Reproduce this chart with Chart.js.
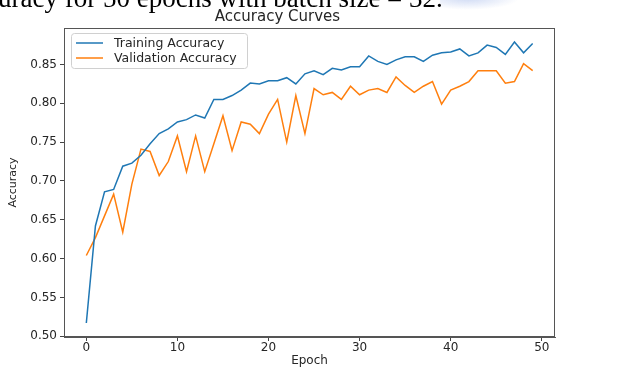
<!DOCTYPE html>
<html>
<head>
<meta charset="utf-8">
<script src="https://cdn.jsdelivr.net/npm/chart.js@4.4.1/dist/chart.umd.min.js"></script>
<style>
  body { margin: 0; background: #fff; overflow: hidden; }
  #wrap { position: relative; width: 627px; height: 372px; }
  #caption {
    position: absolute; left: -2px; top: -15px; white-space: nowrap;
    font-family: "Liberation Serif", serif; font-size: 27px; line-height: 27px; color: #000;
  }
  #smudge {
    position: absolute; left: 440px; top: -10px; width: 80px; height: 20px;
    background: radial-gradient(ellipse at 35% 40%, rgba(190,205,240,0.75), rgba(255,255,255,0) 70%);
  }
  canvas { position: absolute; left: 0; top: 0; }
</style>
</head>
<body>
<div id="wrap">
  <canvas id="chart" width="627" height="372"></canvas>
  <div id="smudge"></div>
  <div id="caption">uracy for 50 epochs with batch size = 32.</div>
</div>
<script>
const epochs = Array.from({ length: 50 }, (_, i) => i);
const trainAcc = [0.517, 0.642, 0.686, 0.689, 0.719, 0.723, 0.733, 0.748, 0.761, 0.767,
                  0.776, 0.779, 0.785, 0.781, 0.805, 0.805, 0.810, 0.817, 0.826, 0.825,
                  0.829, 0.829, 0.833, 0.825, 0.838, 0.842, 0.837, 0.845, 0.843, 0.847,
                  0.847, 0.861, 0.854, 0.850, 0.856, 0.860, 0.860, 0.854, 0.862, 0.865,
                  0.866, 0.870, 0.861, 0.865, 0.875, 0.872, 0.863, 0.879, 0.865, 0.877];
const valAcc = [0.604, 0.627, 0.655, 0.683, 0.634, 0.696, 0.741, 0.738, 0.707, 0.725,
                0.758, 0.712, 0.758, 0.712, 0.748, 0.784, 0.739, 0.776, 0.773, 0.761,
                0.786, 0.805, 0.750, 0.810, 0.761, 0.819, 0.811, 0.814, 0.805, 0.822,
                0.811, 0.817, 0.819, 0.814, 0.834, 0.823, 0.814, 0.822, 0.828, 0.799,
                0.817, 0.822, 0.828, 0.842, 0.842, 0.842, 0.826, 0.828, 0.851, 0.842];
const xTicks = [0, 10, 20, 30, 40, 50];
const yTicks = [0.50, 0.55, 0.60, 0.65, 0.70, 0.75, 0.80, 0.85];

const FONT = "'DejaVu Sans', sans-serif";
const TXT = "#262626";

// frame + legend drawn like matplotlib
const mplBox = {
    id: "mplBox",
    afterDraw(chart) {
        const { ctx, chartArea: a } = chart;
        ctx.save();
        ctx.strokeStyle = "#555";
        ctx.lineWidth = 1;
        ctx.strokeRect(a.left + 0.5, a.top + 0.5, a.right - a.left - 1, a.bottom - a.top - 1);

        const x0 = a.left + 7, y0 = a.top + 5, w = 176, h = 35;
        ctx.fillStyle = "rgba(255,255,255,0.85)";
        ctx.strokeStyle = "#d0d0d0";
        ctx.beginPath();
        ctx.roundRect(x0 + 0.5, y0 + 0.5, w, h, 3);
        ctx.fill();
        ctx.stroke();
        ctx.font = "12.5px " + FONT;
        ctx.textBaseline = "middle";
        chart.data.datasets.forEach((ds, i) => {
            const ly = y0 + 10 + i * 15;
            ctx.strokeStyle = ds.borderColor;
            ctx.lineWidth = 1.5;
            ctx.beginPath();
            ctx.moveTo(x0 + 5, ly);
            ctx.lineTo(x0 + 32, ly);
            ctx.stroke();
            ctx.fillStyle = TXT;
            ctx.fillText(ds.label, x0 + 43, ly + 1);
        });
        ctx.restore();
    },
};

new Chart(document.getElementById("chart").getContext("2d"), {
    type: "line",
    data: {
        labels: epochs,
        datasets: [
            {
                label: "Training Accuracy",
                data: epochs.map((e, i) => ({ x: e, y: trainAcc[i] })),
                borderColor: "#1f77b4",
                borderWidth: 1.5,
                pointRadius: 0,
                tension: 0,
            },
            {
                label: "Validation Accuracy",
                data: epochs.map((e, i) => ({ x: e, y: valAcc[i] })),
                borderColor: "#ff7f0e",
                borderWidth: 1.5,
                pointRadius: 0,
                tension: 0,
            },
        ],
    },
    options: {
        responsive: false,
        animation: false,
        layout: { padding: { left: 0, right: 72, top: 0, bottom: 0 } },
        plugins: {
            legend: { display: false },
            tooltip: { enabled: false },
            title: {
                display: true,
                text: "Accuracy Curves",
                color: TXT,
                font: { family: FONT, size: 15, weight: "normal" },
                padding: { top: 8.5, bottom: 1.5 },
            },
        },
        scales: {
            x: {
                type: "linear",
                min: -2.45,
                max: 51.45,
                afterBuildTicks: (s) => { s.ticks = xTicks.map((v) => ({ value: v })); },
                afterFit: (s) => { s.height = 35; },
                grid: { drawOnChartArea: false, drawTicks: true, tickLength: 4, color: "#444" },
                border: { color: "#555" },
                ticks: { color: TXT, font: { family: FONT, size: 12 }, padding: 0, maxRotation: 0 },
                title: { display: true, text: "Epoch", color: TXT, font: { family: FONT, size: 12 }, padding: { top: 0, bottom: 4 } },
            },
            y: {
                min: 0.499,
                max: 0.897,
                afterBuildTicks: (s) => { s.ticks = yTicks.map((v) => ({ value: v })); },
                afterFit: (s) => { s.width = 64; },
                grid: { drawOnChartArea: false, drawTicks: true, tickLength: 4, color: "#444" },
                border: { color: "#555" },
                ticks: { color: TXT, font: { family: FONT, size: 12 }, padding: 3, callback: (v) => v.toFixed(2) },
                title: { display: true, text: "Accuracy", color: TXT, font: { family: FONT, size: 11 }, padding: { top: 7, bottom: 2 } },
            },
        },
    },
    plugins: [mplBox],
});
</script>
</body>
</html>
